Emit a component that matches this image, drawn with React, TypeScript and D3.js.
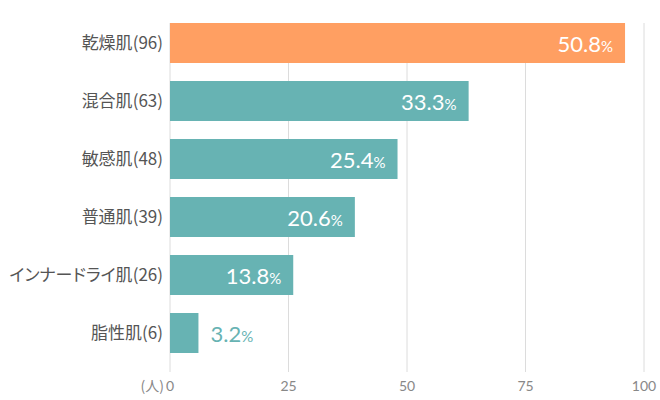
import React from "react";
import * as d3 from "d3";

const categories = ["乾燥肌", "混合肌", "敏感肌", "普通肌", "インナードライ肌", "脂性肌"];
const counts = [96, 63, 48, 39, 26, 6];
const percents = ["50.8", "33.3", "25.4", "20.6", "13.8", "3.2"];
const ticks = [0, 25, 50, 75, 100];
const highlightIndex = 0;

const W = 660;
const H = 400;
const left = 170;
const right = 644;
const top = 23;
const step = 58;

export default function App() {
  const x = d3.scaleLinear().domain([0, 100]).range([left, right]);
  const y = d3
    .scaleBand<string>()
    .domain(categories)
    .range([top - 9, top - 9 + step * categories.length])
    .paddingInner(18 / 58)
    .paddingOuter(9 / 58);
  const jp = "'Noto Sans CJK JP', 'Noto Sans', sans-serif";
  const num = "Lato, 'Noto Sans', sans-serif";
  return (
    <div style={{ position: "absolute", left: 0, top: 0 }}>
      <svg width={W} height={H} style={{ display: "block" }}>
        <rect width={W} height={H} fill="#fff" />
        {ticks.map((t) => (
          <line key={t} x1={x(t)} x2={x(t)} y1={top} y2={372} stroke="#dcdcdc" strokeWidth={1} />
        ))}
        {categories.map((c, i) => {
          const yy = y(c)!;
          const bw = x(counts[i]) - x(0);
          const inside = bw > 60;
          const color = i === highlightIndex ? "#FF9F62" : "#67B3B3";
          return (
            <g key={c}>
              <rect x={x(0)} y={yy} width={bw} height={y.bandwidth()} fill={color} />
              <text
                x={left - 7}
                y={yy + y.bandwidth() / 2 + 6}
                textAnchor="end"
                fontFamily={jp}
                fontSize={17}
                fill="#555"
                style={{ fontFeatureSettings: "'palt'" }}
              >
                {c}({counts[i]})
              </text>
              <text
                x={inside ? x(counts[i]) - 12 : x(counts[i]) + 12}
                y={yy + y.bandwidth() / 2 + 8.5}
                textAnchor={inside ? "end" : "start"}
                fontFamily={num}
                fill={inside ? "#fff" : "#67B3B3"}
              >
                <tspan fontSize={22}>{percents[i]}</tspan>
                <tspan fontSize={15}>%</tspan>
              </text>
            </g>
          );
        })}
        {ticks.map((t) => (
          <text
            key={"l" + t}
            x={x(t)}
            y={391}
            textAnchor="middle"
            fontFamily={num}
            fontSize={14}
            fill="#888"
          >
            {t}
          </text>
        ))}
        <text x={left - 6} y={391} textAnchor="end" fontFamily={jp} fontSize={14} fill="#888">
          (人)
        </text>
      </svg>
    </div>
  );
}
